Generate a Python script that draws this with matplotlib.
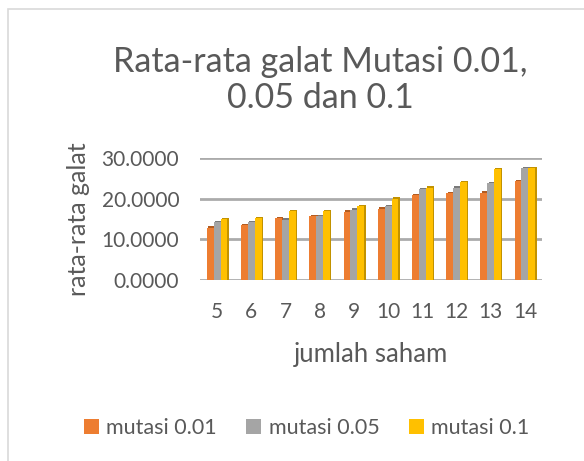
import numpy as np
import matplotlib.pyplot as plt
from matplotlib.patches import Rectangle

# data
saham = ['5', '6', '7', '8', '9', '10', '11', '12', '13', '14']
mutasi_001 = [12.9, 13.5, 15.2, 15.7, 16.8, 17.5, 20.8, 21.3, 21.5, 24.3]
mutasi_005 = [14.2, 14.2, 14.8, 15.7, 17.3, 18.2, 22.3, 22.7, 23.8, 27.5]
mutasi_01 = [14.9, 15.2, 16.9, 16.9, 18.2, 20.0, 22.7, 24.0, 27.3, 27.5]
series_names = ['mutasi 0.01', 'mutasi 0.05', 'mutasi 0.1']
colors = ['#ED7D31', '#A5A5A5', '#FFC000']
dark = ['#B35C20', '#7A7A7A', '#C29200']

plt.rcParams['font.family'] = ['Lato', 'DejaVu Sans']
txt = '#595959'

fig = plt.figure(figsize=(5.84, 4.61), dpi=100)
# chart border (cropped on the right and bottom)
fig.patches.append(Rectangle((8 / 584, -0.1), 1.2, 1 - 9 / 461 + 0.1,
                             transform=fig.transFigure, fill=False,
                             edgecolor='#d9d9d9', lw=1.2))

ax = fig.add_axes([200 / 584, 1 - 280 / 461, 342 / 584, 122 / 461])

x = np.arange(len(saham))
w = 0.2
for i, vals in enumerate([mutasi_001, mutasi_005, mutasi_01]):
    pos = x + (i - 1) * w
    # side/top shading for the 3d look
    ax.bar(pos + 0.04, np.array(vals) + 0.35, width=w, color=dark[i], zorder=2 + i)
    ax.bar(pos, vals, width=w, color=colors[i], label=series_names[i], zorder=2 + i)

ax.set_xlim(-0.5, len(saham) - 0.5)
ax.set_ylim(0, 30)
ax.set_yticks([0, 10, 20, 30])
ax.set_yticklabels(['%.4f' % v for v in [0, 10, 20, 30]])
ax.set_xticks(x)
ax.set_xticklabels(saham)
ax.yaxis.grid(True, color='#ababab', lw=2)
ax.set_axisbelow(True)
for s in ax.spines.values():
    s.set_visible(False)
ax.tick_params(axis='y', length=0, labelsize=15, colors=txt, pad=15)
ax.tick_params(axis='x', length=0, labelsize=15, colors=txt, pad=16)

ax.set_xlabel('jumlah saham', fontsize=18.5, color=txt, labelpad=14)
ax.set_ylabel('rata-rata galat', fontsize=18, color=txt, labelpad=8)

fig.text(0.548, 1 - 80 / 461, 'Rata-rata galat Mutasi 0.01,\n0.05 dan 0.1',
         ha='center', va='center', fontsize=24.5, color=txt, linespacing=1.15)

fig.legend(loc='center', bbox_to_anchor=(0.525, 1 - 428 / 461), ncol=3,
           frameon=False, fontsize=15.5, labelcolor=txt, handlelength=0.7,
           handleheight=0.7, handletextpad=0.35, columnspacing=1.35)

fig.savefig('out.png', dpi=100)
